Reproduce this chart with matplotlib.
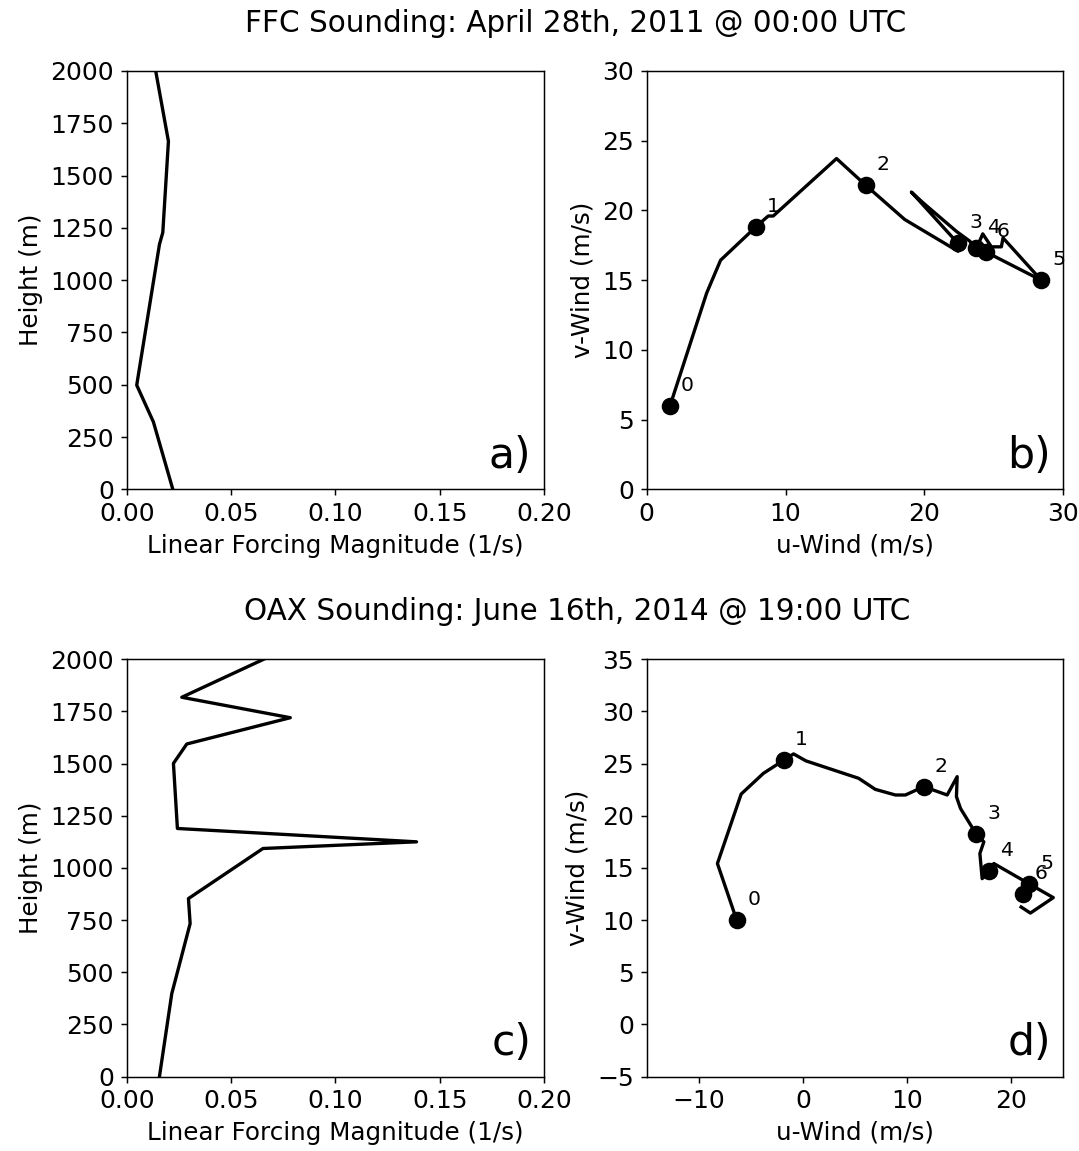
import matplotlib
matplotlib.use("Agg")
import matplotlib.pyplot as plt

# --- FFC 2011-04-28 00 UTC ---
ffc_height = [0, 322, 498, 1171, 1228, 1664, 2000]
ffc_forcing = [0.0221, 0.0128, 0.0048, 0.0157, 0.0173, 0.0200, 0.0139]

ffc_u = [1.68, 4.32, 5.32, 7.84, 8.75, 9.11, 13.67, 15.78, 18.58, 22.42, 22.42,
         19.06, 19.90, 22.30, 23.26, 23.74, 24.20, 24.82, 25.54, 25.66, 28.42, 24.41]
ffc_v = [5.99, 14.08, 16.43, 18.80, 19.60, 19.60, 23.72, 21.80, 19.35, 17.07, 17.63,
         21.32, 20.55, 18.50, 17.80, 17.27, 18.32, 17.39, 17.39, 18.03, 14.99, 17.03]
ffc_km_u = [1.68, 7.84, 15.78, 22.42, 23.74, 28.42, 24.41]
ffc_km_v = [5.99, 18.80, 21.80, 17.63, 17.27, 14.99, 17.03]

# --- OAX 2014-06-16 19 UTC ---
oax_height = [0, 397, 733, 853, 1093, 1125, 1189, 1501, 1594, 1720, 1818, 2000]
oax_forcing = [0.0157, 0.0216, 0.0304, 0.0296, 0.0653, 0.1389, 0.0243, 0.0224,
               0.0288, 0.0784, 0.0264, 0.0656]

oax_u = [-6.35, -8.21, -5.93, -3.79, -1.80, -0.90, 0.29, 5.35, 6.95, 8.88, 9.84,
         11.60, 13.85, 14.81, 14.74, 15.13, 16.66, 17.37, 16.99, 17.21, 17.85,
         18.33, 21.69, 24.04, 21.84, 20.95]
oax_v = [9.97, 15.42, 22.08, 24.07, 25.35, 25.93, 25.26, 23.59, 22.53, 21.99, 21.99,
         22.79, 21.99, 23.75, 21.83, 20.70, 18.21, 17.50, 16.38, 13.97, 14.68,
         15.42, 13.49, 12.15, 10.67, 11.25]
oax_km_u = [-6.35, -1.80, 11.60, 16.66, 17.85, 21.69, 21.15]
oax_km_v = [9.97, 25.35, 22.79, 18.21, 14.68, 13.49, 12.47]

km_labels = ['0', '1', '2', '3', '4', '5', '6']

W, H, DPI = 1079, 1151, 133
plt.rcParams['font.size'] = 13.5
plt.rcParams['xtick.labelsize'] = 13.5
plt.rcParams['ytick.labelsize'] = 13.5
plt.rcParams['axes.labelsize'] = 13.3
fig = plt.figure(figsize=(W / DPI, H / DPI), dpi=DPI)


def box(x0, y0, x1, y1):
    return [x0 / W, 1 - y1 / H, (x1 - x0) / W, (y1 - y0) / H]


def forcing_panel(ax, f, h, tag):
    ax.plot(f, h, color='black', linewidth=1.8)
    ax.set_xlim(0, 0.2)
    ax.set_ylim(0, 2000)
    ax.set_xticks([0, 0.05, 0.10, 0.15, 0.20])
    ax.set_yticks(range(0, 2001, 250))
    ax.set_xlabel('Linear Forcing Magnitude (1/s)')
    ax.set_ylabel('Height (m)')
    ax.text(0.97, 0.03, tag, transform=ax.transAxes, ha='right', va='bottom', fontsize=23)


def hodo_panel(ax, u, v, ku, kv, tag):
    ax.plot(u, v, color='black', linewidth=1.8)
    ax.plot(ku, kv, 'o', color='black', markersize=8.5)
    for lab, x, y in zip(km_labels, ku, kv):
        ax.annotate(lab, (x, y), xytext=(6, 6), textcoords='offset points',
                    ha='left', va='bottom', fontsize=11)
    ax.set_xlabel('u-Wind (m/s)')
    ax.set_ylabel('v-Wind (m/s)')
    ax.text(0.97, 0.03, tag, transform=ax.transAxes, ha='right', va='bottom', fontsize=23)


ax_a = fig.add_axes(box(126.7, 71, 544, 489.3))
forcing_panel(ax_a, ffc_forcing, ffc_height, 'a)')

ax_b = fig.add_axes(box(646.7, 71, 1063.3, 489.3))
hodo_panel(ax_b, ffc_u, ffc_v, ffc_km_u, ffc_km_v, 'b)')
ax_b.set_xlim(0, 30)
ax_b.set_ylim(0, 30)
ax_b.set_xticks([0, 10, 20, 30])
ax_b.set_yticks(range(0, 31, 5))

ax_c = fig.add_axes(box(126.7, 659.3, 544, 1076.5))
forcing_panel(ax_c, oax_forcing, oax_height, 'c)')

ax_d = fig.add_axes(box(646.7, 659.3, 1063.3, 1076.5))
hodo_panel(ax_d, oax_u, oax_v, oax_km_u, oax_km_v, 'd)')
ax_d.set_xlim(-15, 25)
ax_d.set_ylim(-5, 35)
ax_d.set_xticks([-10, 0, 10, 20])
ax_d.set_yticks(range(-5, 36, 5))

fig.text(576 / W, 1 - 24 / H, 'FFC Sounding: April 28th, 2011 @ 00:00 UTC',
         ha='center', va='center', fontsize=16)
fig.text(577 / W, 1 - 612 / H, 'OAX Sounding: June 16th, 2014 @ 19:00 UTC',
         ha='center', va='center', fontsize=16)

plt.savefig('out.png', dpi=DPI)
